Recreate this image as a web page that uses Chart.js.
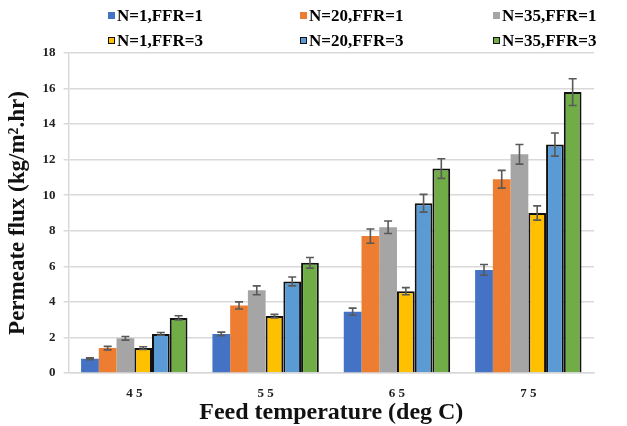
<!DOCTYPE html>
<html>
<head>
<meta charset="utf-8">
<script src="https://cdn.jsdelivr.net/npm/chart.js@4.4.1/dist/chart.umd.min.js"></script>
<style>
  html, body { margin: 0; padding: 0; background: #fff; }
  #wrap { position: relative; width: 627px; height: 426px; }
  #legend { position: absolute; left: 0; top: 0; width: 627px; height: 50px; }
  .item { position: absolute; font-family: "Liberation Serif", "Times New Roman", serif; font-weight: bold; font-size: 17px; color: #000; white-space: nowrap; line-height: 20px; }
  .box { display: inline-block; width: 7px; height: 7px; margin-right: 2px; vertical-align: 2px; box-sizing: border-box; }
</style>
</head>
<body>
<div id="wrap">
  <canvas id="fluxChart" width="627" height="426"></canvas>
  <div id="legend"></div>
</div>
<script>
// Datos
const temperaturas = ["45", "55", "65", "75"];
const series = ["N=1,FFR=1", "N=20,FFR=1", "N=35,FFR=1", "N=1,FFR=3", "N=20,FFR=3", "N=35,FFR=3"];

const n1ffr1 = [0.8, 2.2, 3.45, 5.8];
const n20ffr1 = [1.4, 3.8, 7.7, 10.9];
const n35ffr1 = [1.95, 4.65, 8.2, 12.3];
const n1ffr3 = [1.4, 3.2, 4.6, 9.0];
const n20ffr3 = [2.2, 5.15, 9.55, 12.85];
const n35ffr3 = [3.1, 6.2, 11.5, 15.8];

// Barras de error (+/-)
const errN1ffr1 = [0.05, 0.1, 0.2, 0.3];
const errN20ffr1 = [0.1, 0.2, 0.4, 0.5];
const errN35ffr1 = [0.1, 0.25, 0.35, 0.55];
const errN1ffr3 = [0.08, 0.1, 0.2, 0.4];
const errN20ffr3 = [0.08, 0.25, 0.5, 0.65];
const errN35ffr3 = [0.12, 0.3, 0.55, 0.75];

const colores = ["#4472C4", "#ED7D31", "#A5A5A5", "#FFC000", "#5B9BD5", "#70AD47"];
const valores = [n1ffr1, n20ffr1, n35ffr1, n1ffr3, n20ffr3, n35ffr3];
const errores = [errN1ffr1, errN20ffr1, errN35ffr1, errN1ffr3, errN20ffr3, errN35ffr3];

const fuente = "'Liberation Serif', 'Times New Roman', serif";

const datasets = series.map(function (nombre, i) {
  const conBorde = i >= 3;
  return {
    label: nombre,
    data: valores[i],
    errores: errores[i],
    backgroundColor: colores[i],
    borderColor: conBorde ? "#111" : colores[i],
    borderWidth: conBorde ? 2 : 0,
    categoryPercentage: 0.81,
    barPercentage: 1.0,
  };
});

// Plugin para barras de error
const errorBars = {
  id: "errorBars",
  afterDatasetsDraw(chart) {
    const ctx = chart.ctx;
    const y = chart.scales.y;
    ctx.save();
    ctx.strokeStyle = "#595959";
    ctx.lineWidth = 1.6;
    chart.data.datasets.forEach(function (ds, i) {
      const meta = chart.getDatasetMeta(i);
      meta.data.forEach(function (bar, j) {
        const v = ds.data[j];
        const e = ds.errores[j];
        const top = y.getPixelForValue(v + e);
        const bot = y.getPixelForValue(v - e);
        const x = bar.x;
        ctx.beginPath();
        ctx.moveTo(x, top); ctx.lineTo(x, bot);
        ctx.moveTo(x - 4, top); ctx.lineTo(x + 4, top);
        ctx.moveTo(x - 4, bot); ctx.lineTo(x + 4, bot);
        ctx.stroke();
      });
    });
    ctx.restore();
  },
};

new Chart(document.getElementById("fluxChart"), {
  type: "bar",
  data: { labels: temperaturas, datasets: datasets },
  options: {
    responsive: false,
    animation: false,
    layout: { padding: { top: 53, right: 33, left: 4, bottom: 0 } },
    plugins: {
      legend: { display: false },
      tooltip: { enabled: false },
    },
    scales: {
      x: {
        grid: { display: false, drawTicks: false },
        border: { color: "#d9d9d9", width: 1.5 },
        ticks: {
          color: "#222",
          padding: 13,
          font: { family: fuente, weight: "bold", size: 13 },
          callback: function (v) { return this.getLabelForValue(v).split("").join(" "); },
        },
        title: {
          display: true,
          text: "Feed temperature (deg C)",
          color: "#111",
          padding: { top: -15, bottom: 0 },
          font: { family: fuente, weight: "bold", size: 24, lineHeight: 1.1 },
        },
      },
      y: {
        min: 0,
        max: 18,
        ticks: {
          stepSize: 2,
          color: "#222",
          padding: 8,
          font: { family: fuente, weight: "bold", size: 13 },
        },
        grid: { color: "#d9d9d9", lineWidth: 1.5, tickLength: 5 },
        border: { color: "#d9d9d9", width: 1.5 },
        title: {
          display: true,
          text: "Permeate flux (kg/m\u00B2.hr)",
          color: "#111",
          padding: { top: 0, bottom: 3 },
          font: { family: fuente, weight: "bold", size: 23 },
        },
      },
    },
  },
  plugins: [errorBars],
});

// Leyenda en HTML: dos filas de tres columnas
const leyenda = document.getElementById("legend");
const colX = [108, 300, 493];
const filaY = [6, 31];
series.forEach(function (nombre, i) {
  const item = document.createElement("div");
  item.className = "item";
  item.style.left = colX[i % 3] + "px";
  item.style.top = filaY[Math.floor(i / 3)] + "px";
  const box = document.createElement("span");
  box.className = "box";
  box.style.background = colores[i];
  if (i >= 3) box.style.border = "1.5px solid #111";
  item.appendChild(box);
  item.appendChild(document.createTextNode(nombre));
  leyenda.appendChild(item);
});
</script>
</body>
</html>
